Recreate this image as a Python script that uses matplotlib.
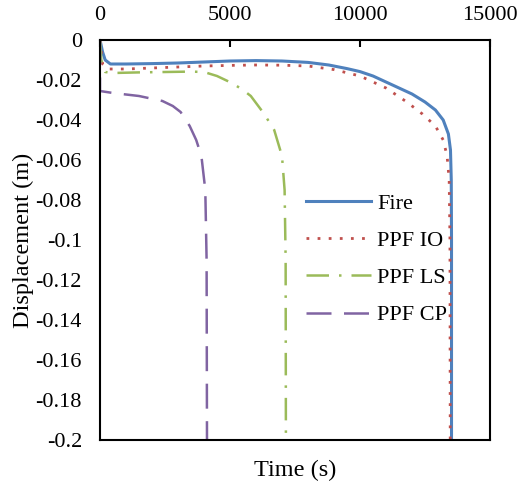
import matplotlib.pyplot as plt

plt.rcParams['font.family'] = ['Liberation Serif', 'DejaVu Serif']

# Fire
t_fire = [0, 100, 200, 400, 1000, 2000, 3000, 4000, 5000, 6000, 7000, 8000, 8800,
          9500, 10000, 10500, 11000, 11500, 12000, 12500, 12900, 13200, 13400,
          13480, 13510, 13520, 13520]
d_fire = [0, -0.006, -0.010, -0.012, -0.012, -0.0118, -0.0115, -0.011, -0.0105,
          -0.0103, -0.0105, -0.0112, -0.0125, -0.0143, -0.0158, -0.018, -0.021,
          -0.024, -0.027, -0.031, -0.035, -0.040, -0.047, -0.055, -0.07, -0.1, -0.2]

# PPF IO
t_io = [0, 100, 300, 1000, 2000, 3000, 4000, 5000, 6000, 7000, 8000, 9000, 10000,
        11000, 11800, 12400, 12900, 13200, 13350, 13430, 13460, 13470]
d_io = [0, -0.012, -0.0145, -0.0145, -0.014, -0.0135, -0.013, -0.0127, -0.0125,
        -0.0126, -0.013, -0.0148, -0.018, -0.024, -0.031, -0.037, -0.043, -0.050,
        -0.058, -0.07, -0.1, -0.2]

# PPF LS
t_ls = [0, 50, 200, 500, 1500, 2500, 3500, 4000, 4500, 5100, 5500, 5800, 6300,
        6700, 7000, 7100, 7140, 7150]
d_ls = [0, -0.010, -0.016, -0.0165, -0.0162, -0.016, -0.0158, -0.016, -0.018,
        -0.0217, -0.025, -0.028, -0.0367, -0.045, -0.058, -0.075, -0.11, -0.2]

# PPF CP
t_cp = [0, 0, 500, 1500, 2400, 2800, 3100, 3450, 3700, 3900, 4050, 4100, 4115]
d_cp = [0, -0.0255, -0.0265, -0.028, -0.0305, -0.033, -0.036, -0.043, -0.05,
        -0.058, -0.075, -0.11, -0.2]

fig = plt.figure(figsize=(5.19, 4.88), dpi=100)
ax = fig.add_axes([100 / 519, 48 / 488, 390 / 519, 400 / 488])

ax.plot(t_fire, d_fire, color='#4F81BD', lw=2.2, label='Fire')
ax.plot(t_io, d_io, color='#C0504D', lw=2.0, linestyle=(0, (1, 3)), label='PPF IO')
ax.plot(t_ls, d_ls, color='#9BBB59', lw=1.8, linestyle=(0, (9, 4, 1, 4)), label='PPF LS')
ax.plot(t_cp, d_cp, color='#8064A2', lw=1.8, linestyle=(0, (10, 5)), label='PPF CP')

ax.set_xlim(0, 15000)
ax.set_ylim(-0.2, 0)
ax.set_xticks([0, 5000, 10000, 15000])
ax.set_yticks([round(-0.02 * i, 2) for i in range(11)])
ax.set_yticklabels(['0', '-0.02', '-0.04', '-0.06', '-0.08', '-0.1', '-0.12',
                    '-0.14', '-0.16', '-0.18', '-0.2'])
ax.xaxis.tick_top()
ax.tick_params(axis='x', direction='in', length=5, width=1.5, pad=11, labelsize=16)
ax.tick_params(axis='y', length=0, pad=13, labelsize=16)
for s in ax.spines.values():
    s.set_linewidth(1.5)

ax.set_xlabel('Time (s)', fontsize=17.5, labelpad=14)
ax.set_ylabel('Displacement (m)', fontsize=17.5, labelpad=1)

ax.legend(loc='upper left', bbox_to_anchor=(0.50, 0.645), frameon=False, fontsize=16,
          handlelength=2.9, labelspacing=0.75, handletextpad=0.3, borderpad=0)

fig.savefig('out.png', dpi=100)
